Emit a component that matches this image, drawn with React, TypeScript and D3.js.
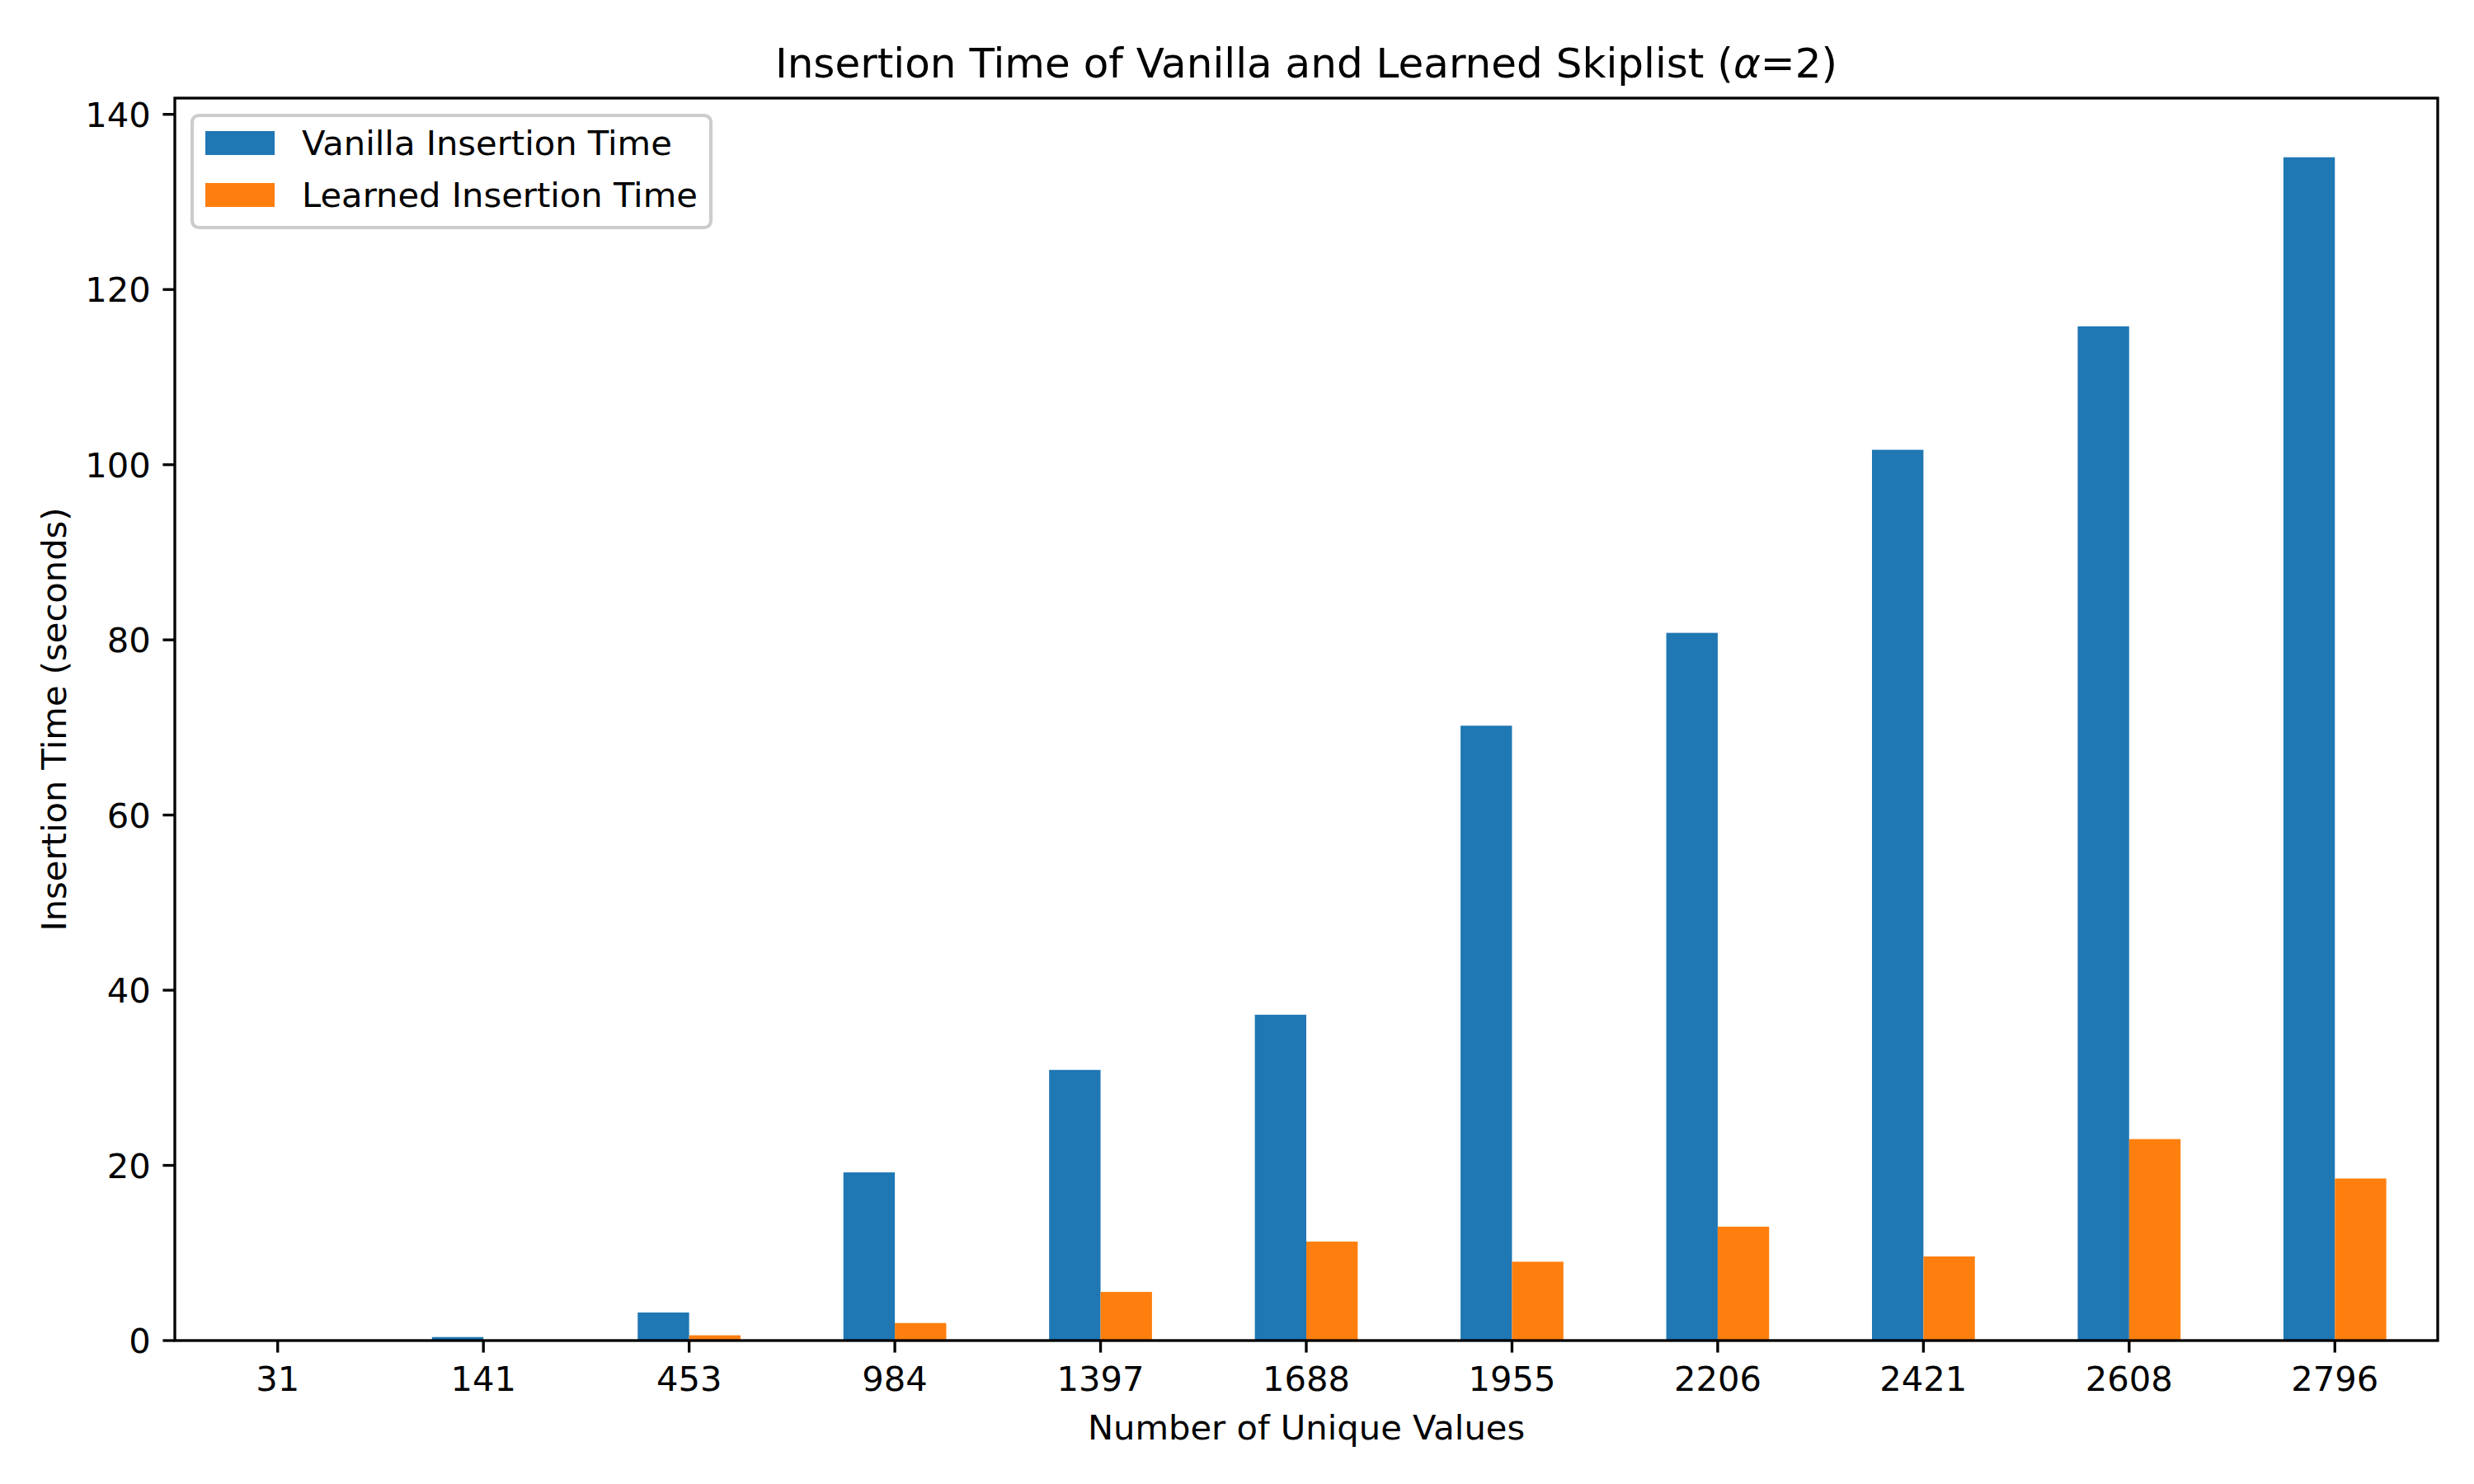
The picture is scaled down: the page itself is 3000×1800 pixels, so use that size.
import * as d3 from "d3";

// number of unique values on the x axis
const categories = ["31", "141", "453", "984", "1397", "1688", "1955", "2206", "2421", "2608", "2796"];
const vanilla = [0.02, 0.4, 3.2, 19.2, 30.9, 37.2, 70.2, 80.8, 101.7, 115.8, 135.1];
const learned = [0.01, 0.05, 0.6, 2.0, 5.55, 11.3, 9.0, 13.0, 9.6, 23.0, 18.5];
const seriesNames = ["Vanilla Insertion Time", "Learned Insertion Time"];
const yTicks = [0, 20, 40, 60, 80, 100, 120, 140];

const W = 3000;
const H = 1800;
const left = 212;
const right = 2956;
const top = 119;
const bottom = 1626;
const colors = ["#1f77b4", "#ff7f0e"];
const font = "DejaVu Sans";
const pt = 300 / 72; // px per point

export default function App() {
  const x = d3.scaleLinear().domain([-0.5, categories.length - 0.5]).range([left, right]);
  const ymax = d3.max(vanilla.concat(learned)) as number;
  const y = d3.scaleLinear().domain([0, ymax * 1.05]).range([bottom, top]);
  const barW = 0.25;
  const series = [vanilla, learned];
  const tickLen = 3.5 * pt;
  const lw = 0.8 * pt;
  const fs = 10 * pt;

  return (
    <svg width={W} height={H} style={{ position: "absolute", left: 0, top: 0, background: "#fff" }}
      fontFamily={font}>
      <rect x={0} y={0} width={W} height={H} fill="#fff" />
      {/* bars */}
      {series.map((vals, s) => (
        <g key={s} fill={colors[s]}>
          {vals.map((v, i) => {
            const x0 = x(i - barW + s * barW);
            const x1 = x(i + s * barW);
            return <rect key={i} x={x0} y={y(v)} width={x1 - x0} height={y(0) - y(v)} />;
          })}
        </g>
      ))}
      {/* spines */}
      <rect x={left} y={top} width={right - left} height={bottom - top} fill="none"
        stroke="#000" strokeWidth={lw} strokeLinecap="square" />
      {/* y axis */}
      {yTicks.map(t => (
        <g key={t}>
          <line x1={left - tickLen} x2={left} y1={y(t)} y2={y(t)} stroke="#000" strokeWidth={lw} />
          <text x={left - tickLen - 3.5 * pt} y={y(t)} dy="0.36em" textAnchor="end" fontSize={fs}>{t}</text>
        </g>
      ))}
      {/* x axis */}
      {categories.map((c, i) => (
        <g key={c}>
          <line x1={x(i)} x2={x(i)} y1={bottom} y2={bottom + tickLen} stroke="#000" strokeWidth={lw} />
          <text x={x(i)} y={1687} textAnchor="middle" fontSize={fs}>{c}</text>
        </g>
      ))}
      <text x={(left + right) / 2} y={1746} textAnchor="middle" fontSize={fs}>Number of Unique Values</text>
      <text transform={`translate(80,${(top + bottom) / 2}) rotate(-90)`} textAnchor="middle" fontSize={fs}>
        Insertion Time (seconds)
      </text>
      <text x={(left + right) / 2} y={94} textAnchor="middle" fontSize={12 * pt}>
        Insertion Time of Vanilla and Learned Skiplist (<tspan fontStyle="italic">α</tspan>=2)
      </text>
      {/* legend */}
      <g>
        <rect x={233} y={140} width={629} height={136} rx={8} ry={8} fill="#fff" fillOpacity={0.8}
          stroke="#ccc" strokeWidth={1 * pt} />
        {seriesNames.map((n, s) => (
          <g key={n}>
            <rect x={249} y={159 + s * 63} width={84} height={29} fill={colors[s]} />
            <text x={366} y={188 + s * 63} fontSize={fs}>{n}</text>
          </g>
        ))}
      </g>
    </svg>
  );
}
